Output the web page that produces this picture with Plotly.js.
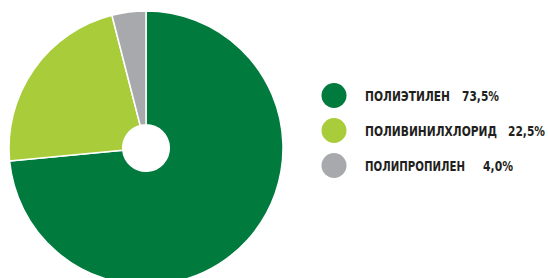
<!DOCTYPE html>
<html>
<head>
<meta charset="utf-8">
<script src="https://cdn.plot.ly/plotly-3.0.1.min.js"></script>
<style>
html,body{margin:0;padding:0;overflow:hidden;background:#fff;width:548px;height:278px;}
#chart{width:548px;height:296px;}
</style>
</head>
<body>
<div id="chart"></div>
<script>
var categories = ["ПОЛИЭТИЛЕН", "ПОЛИВИНИЛХЛОРИД", "ПОЛИПРОПИЛЕН"];
var shares = [73.5, 22.5, 4.0];
var valueLabels = ["73,5%", "22,5%", "4,0%"];
var colors = ["#007a3d", "#a8cc3a", "#a7a9ac"];

// legend layout (pixels)
var rowY = [95.5, 130.5, 165.5];
var nameLeft = 365;
var nameWidth = [85, 132, 100];
var valueLeft = [462, 508, 483];
var valueWidth = [37, 37, 30];

var W = 548, H = 296, MT = 11, MB = 11;
var plotH = H - MT - MB;
function px(x){ return x / W; }
function py(y){ return (H - MB - y) / plotH; }

var FONT = {family:'"DejaVu Sans Condensed", "DejaVu Sans", sans-serif', size:14, color:'#231f20', weight:'bold'};
var shapes = [], annotations = [], targets = [];
categories.forEach(function(c, i){
  var cx = 334, cy = rowY[i], r = 12.5;
  shapes.push({type:'circle', xref:'paper', yref:'paper',
    x0:px(cx - r), x1:px(cx + r), y0:py(cy + r), y1:py(cy - r),
    fillcolor: colors[i], line:{width:0}});
  annotations.push({xref:'paper', yref:'paper', x:px(nameLeft), y:py(cy),
    xanchor:'left', yanchor:'middle', showarrow:false, text:c, font:FONT});
  targets.push([nameLeft, nameWidth[i]]);
  annotations.push({xref:'paper', yref:'paper', x:px(valueLeft[i]), y:py(cy),
    xanchor:'left', yanchor:'middle', showarrow:false, text:valueLabels[i], font:FONT});
  targets.push([valueLeft[i], valueWidth[i]]);
});

var data = [{
  type:'pie', labels: categories, values: shares,
  sort:false, direction:'clockwise', rotation:0,
  hole:0.17, textinfo:'none', hoverinfo:'none', showlegend:false,
  marker:{colors: colors, line:{color:'#ffffff', width:1.5}},
  domain:{x:[px(9), px(283)], y:[0,1]}
}];

var layout = {
  width:W, height:H,
  margin:{l:0, r:0, t:MT, b:MB, pad:0},
  paper_bgcolor:'#ffffff', plot_bgcolor:'#ffffff',
  showlegend:false, shapes:shapes, annotations:annotations
};
Plotly.newPlot('chart', data, layout, {staticPlot:true, displayModeBar:false}).then(function(gd){
  var host = gd.getBoundingClientRect();
  var texts = gd.querySelectorAll('.annotation-text');
  texts.forEach(function(t, k){
    var tg = targets[k];
    if(!tg) return;
    t.setAttribute('textLength', tg[1]);
    t.setAttribute('lengthAdjust', 'spacingAndGlyphs');
    t.setAttribute('text-anchor', 'start');
    var rc = t.getBoundingClientRect();
    var dx = (host.left + tg[0]) - rc.left;
    var prev = t.getAttribute('transform') || '';
    t.setAttribute('transform', prev + ' translate(' + dx + ',0)');
    var bb = t.getBBox();
    var bg = t.parentNode.querySelector('rect.bg');
    if(bg){
      bg.setAttribute('x', bb.x + dx);
      bg.setAttribute('width', bb.width);
      bg.setAttribute('y', bb.y);
      bg.setAttribute('height', bb.height);
    }
  });
});
</script>
</body>
</html>
